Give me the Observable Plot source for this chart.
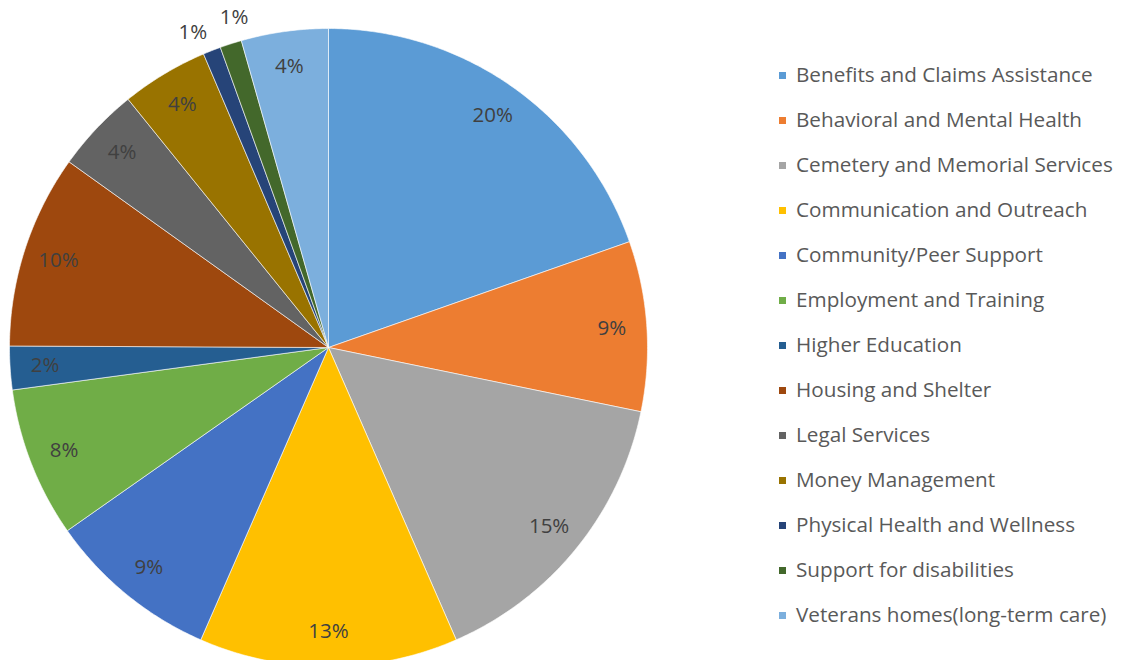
<!DOCTYPE html>
<html><head><meta charset="utf-8">
<script src="https://cdn.jsdelivr.net/npm/d3@7"></script>
<script src="https://cdn.jsdelivr.net/npm/@observablehq/plot@0.6"></script>
<style>
html,body{margin:0;padding:0;background:#fff;overflow:hidden;}
#wrap{position:relative;width:1126px;height:660px;}
#chart{position:absolute;left:0;top:0;}
#legend{position:absolute;left:779px;top:60px;font-family:"Open Sans",sans-serif;font-size:20.7px;color:#595959;}
.item{height:45px;display:flex;align-items:flex-start;}
.sw{width:7px;height:7px;margin-right:10px;margin-top:12px;flex:none;}
</style></head>
<body><div id="wrap"><div id="chart"></div><div id="legend"></div></div>
<script>
const categories = ["Benefits and Claims Assistance","Behavioral and Mental Health","Cemetery and Memorial Services","Communication and Outreach","Community/Peer Support","Employment and Training","Higher Education","Housing and Shelter","Legal Services","Money Management","Physical Health and Wellness","Support for disabilities","Veterans homes(long-term care)"];
const values = [19.6, 8.6, 15.2, 13.1, 8.7, 7.6, 2.2, 9.8, 4.3, 4.4, 0.9, 1.1, 4.4];
const labels = ["20%","9%","15%","13%","9%","8%","2%","10%","4%","4%","1%","1%","4%"];
const colors = ["#5B9BD5","#ED7D31","#A5A5A5","#FFC000","#4472C4","#70AD47","#255E91","#9E480E","#636363","#997300","#264478","#43682B","#7CAFDD"];

const pie = d3.pie().sort(null).value(d => d)(values);
const pts = [];
const labs = [];
const outside = [];
pie.forEach((p, i) => {
  const n = Math.max(2, Math.ceil((p.endAngle - p.startAngle) / 0.01));
  pts.push({cat: categories[i], x: 0, y: 0});
  for (let k = 0; k <= n; k++) {
    const a = p.startAngle + (p.endAngle - p.startAngle) * k / n;
    pts.push({cat: categories[i], x: Math.sin(a), y: Math.cos(a)});
  }
  pts.push({cat: categories[i], x: 0, y: 0});
  const m = (p.startAngle + p.endAngle) / 2;
  if (values[i] < 1.5) outside.push({m, t: labels[i]});
  else labs.push({x: 0.89 * Math.sin(m), y: 0.89 * Math.cos(m), t: labels[i]});
});
// spread outside labels apart around their mean angle
const minSep = 7.3 * Math.PI / 180;
const mean = d3.mean(outside, d => d.m);
outside.forEach((d, k) => {
  const a = mean + (k - (outside.length - 1) / 2) * minSep;
  labs.push({x: 1.075 * Math.sin(a), y: 1.075 * Math.cos(a), t: d.t});
});

const chart = Plot.plot({
  width: 740, height: 700,
  marginLeft: 9, marginRight: 93, marginTop: 28, marginBottom: 34,
  x: {domain: [-1, 1], axis: null},
  y: {domain: [-1, 1], axis: null},
  color: {domain: categories, range: colors},
  style: {background: "transparent"},
  marks: [
    Plot.line(pts, {x: "x", y: "y", z: "cat", fill: "cat", stroke: "#fff", strokeWidth: 0.6, curve: "linear"}),
    Plot.text(labs, {x: "x", y: "y", text: "t", fontSize: 20.5, fill: "#404040", fontFamily: "'Open Sans', sans-serif"})
  ]
});
document.getElementById("chart").append(chart);

const lg = d3.select("#legend");
categories.forEach((c, i) => {
  const it = lg.append("div").attr("class", "item");
  it.append("div").attr("class", "sw").style("background", colors[i]);
  it.append("span").text(c);
});
</script></body></html>
